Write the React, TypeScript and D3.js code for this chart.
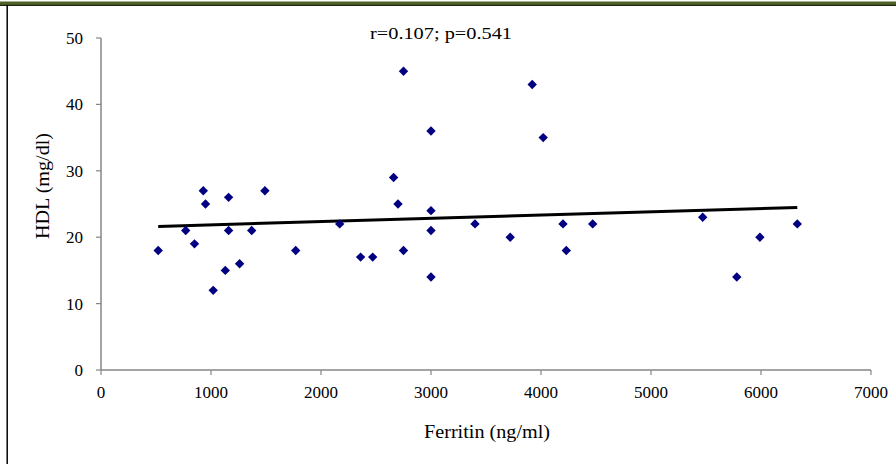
import React from "react";
import * as d3 from "d3";

const ferritin = [520, 770, 850, 930, 950, 1020, 1130, 1160, 1160, 1260, 1370, 1490, 1770, 2170, 2360, 2470, 2660, 2700, 2750, 2750, 3000, 3000, 3000, 3000, 3400, 3720, 3920, 4020, 4200, 4230, 4470, 5470, 5780, 5990, 6330];
const hdl = [18, 21, 19, 27, 25, 12, 15, 26, 21, 16, 21, 27, 18, 22, 17, 17, 29, 25, 18, 45, 24, 21, 14, 36, 22, 20, 43, 35, 22, 18, 22, 23, 14, 20, 22];
const xTicks = [0, 1000, 2000, 3000, 4000, 5000, 6000, 7000];
const yTicks = [0, 10, 20, 30, 40, 50];
const titleText = "r=0.107; p=0.541";
const xLabel = "Ferritin (ng/ml)";
const yLabel = "HDL (mg/dl)";

export default function App() {
  const W = 896, H = 464;
  const x = d3.scaleLinear().domain([0, 7000]).range([101, 871]);
  const y = d3.scaleLinear().domain([0, 50]).range([370, 38]);
  const mx = d3.mean(ferritin)!;
  const my = d3.mean(hdl)!;
  let sxy = 0, sxx = 0;
  ferritin.forEach((v, i) => { sxy += (v - mx) * (hdl[i] - my); sxx += (v - mx) * (v - mx); });
  const slope = sxy / sxx;
  const icpt = my - slope * mx;
  const [x0, x1] = d3.extent(ferritin) as [number, number];
  const line = d3.line<number>().x(d => x(d)).y(d => y(icpt + slope * d));
  const sym = d3.symbol(d3.symbolSquare, 44)()!;
  const font = "'Liberation Serif', 'Times New Roman', serif";
  const axisColor = "#868686";
  return (
    <svg width={W} height={H} style={{ position: "absolute", left: 0, top: 0, background: "#fff" }}>
      <rect x={0} y={1.5} width={W} height={3.5} fill="#4f6228" />
      <rect x={0} y={4.8} width={W} height={1.2} fill="#1e2410" />
      <line x1={7.2} x2={7.2} y1={5} y2={H} stroke="#000" strokeWidth={1.5} />
      <text x={441} y={39} fontFamily={font} fontSize={17} textAnchor="middle" fill="#000" textLength={142} lengthAdjust="spacingAndGlyphs">{titleText}</text>
      <line x1={x(0)} x2={x(7000)} y1={y(0)} y2={y(0)} stroke={axisColor} strokeWidth={1.5} />
      <line x1={x(0)} x2={x(0)} y1={y(0)} y2={y(50)} stroke={axisColor} strokeWidth={1.5} />
      {xTicks.map(t => (
        <g key={"x" + t}>
          <line x1={x(t)} x2={x(t)} y1={y(0)} y2={y(0) + 5} stroke={axisColor} strokeWidth={1.2} />
          <text x={x(t)} y={y(0) + 28} fontFamily={font} fontSize={17} textAnchor="middle" fill="#000">{t}</text>
        </g>
      ))}
      {yTicks.map(t => (
        <g key={"y" + t}>
          <line x1={x(0) - 5} x2={x(0)} y1={y(t)} y2={y(t)} stroke={axisColor} strokeWidth={1.2} />
          <text x={x(0) - 18} y={y(t) + 6} fontFamily={font} fontSize={17} textAnchor="end" fill="#000">{t}</text>
        </g>
      ))}
      <text x={487} y={438} fontFamily={font} fontSize={18} textAnchor="middle" fill="#000" textLength={126} lengthAdjust="spacingAndGlyphs">{xLabel}</text>
      <text transform={`translate(49,${186}) rotate(-90)`} fontFamily={font} fontSize={18} textAnchor="middle" fill="#000" textLength={106} lengthAdjust="spacingAndGlyphs">{yLabel}</text>
      <path d={line([x0, x1])!} stroke="#000" strokeWidth={3} fill="none" />
      {ferritin.map((v, i) => (
        <path key={i} d={sym} transform={`translate(${x(v)},${y(hdl[i])}) rotate(45)`} fill="#000080" />
      ))}
    </svg>
  );
}
